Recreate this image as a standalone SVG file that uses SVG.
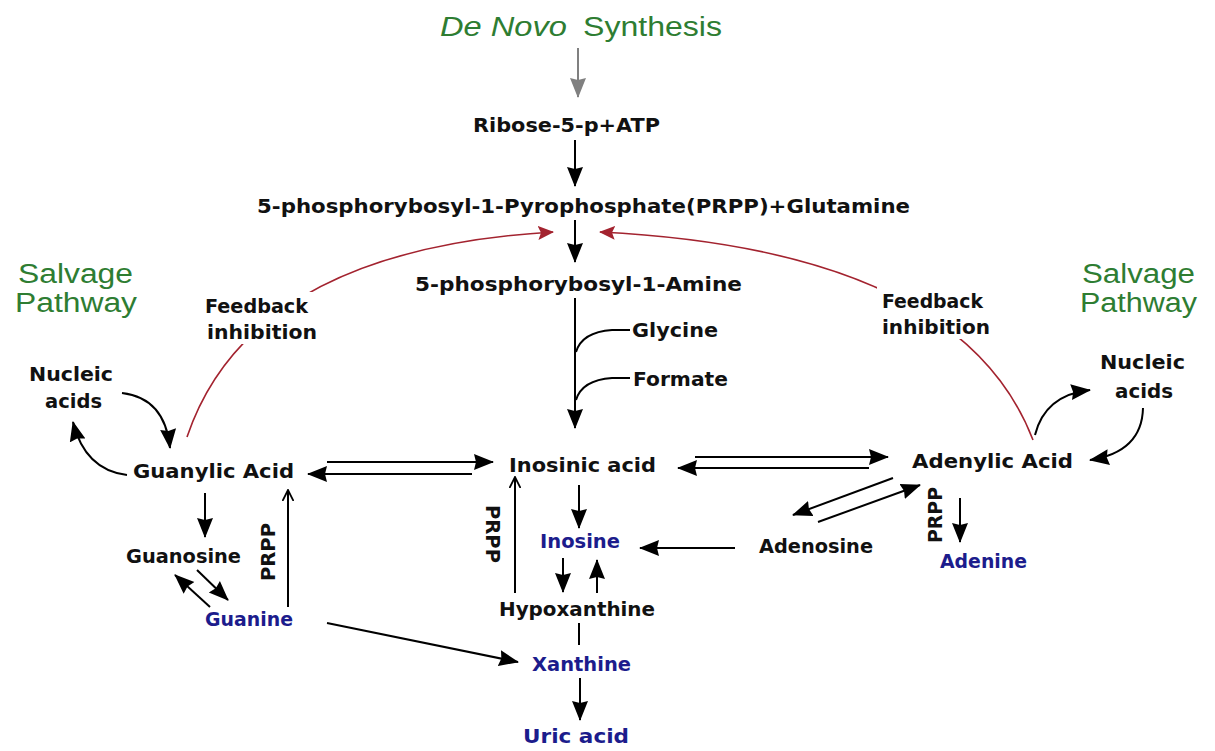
<svg xmlns="http://www.w3.org/2000/svg" width="1215" height="751" viewBox="0 0 1215 751">
<style>
.t{font-family:"DejaVu Sans","Liberation Sans",sans-serif;font-weight:bold;font-size:19px;fill:#111}
.b{fill:#1c1c8c}
.g{font-family:"Liberation Sans",Arial,sans-serif;font-size:27px;fill:#2e7d32}
.c{fill:none;stroke:#000;stroke-width:2}
.r{fill:none;stroke:#a3232f;stroke-width:1.6}
</style>
<defs>
<marker id="ah" markerUnits="userSpaceOnUse" markerWidth="20" markerHeight="18" viewBox="0 0 20 18" refX="19" refY="9" orient="auto"><path d="M0,1 L20,9 L0,17 L2,9 z" fill="#000"/></marker>
<marker id="ag" markerUnits="userSpaceOnUse" markerWidth="20" markerHeight="18" viewBox="0 0 20 18" refX="19" refY="9" orient="auto"><path d="M0,1 L20,9 L0,17 L2,9 z" fill="#808080"/></marker>
<marker id="ar" markerUnits="userSpaceOnUse" markerWidth="16" markerHeight="14" viewBox="0 0 16 14" refX="15" refY="7" orient="auto"><path d="M0,0 L16,7 L0,14 L3,7 z" fill="#a3232f"/></marker>
<marker id="ao" markerUnits="userSpaceOnUse" markerWidth="12" markerHeight="12" viewBox="0 0 12 12" refX="11" refY="6" orient="auto"><path d="M0,0.5 L11,6 L0,11.5" fill="none" stroke="#000" stroke-width="1.8"/></marker>
</defs>
<rect width="1215" height="751" fill="#fff"/>
<g id="connectors">
<path d="M578,48 L578,97" fill="none" stroke="#808080" stroke-width="2" marker-end="url(#ag)"/>
<path class="c" d="M575,140 L575,186" marker-end="url(#ah)"/>
<path class="c" d="M575,220 L575,262" marker-end="url(#ah)"/>
<path class="r" d="M187,437 Q250,250 553,232" marker-end="url(#ar)"/>
<path class="r" d="M1033,440 Q960,250 600,232" marker-end="url(#ar)"/>
<path class="c" d="M575,298 L575,428" marker-end="url(#ah)"/>
<path class="c" d="M630,330 L612,330 Q582,332 576,352" stroke-width="1.6"/>
<path class="c" d="M630,378 L612,378 Q582,380 576,400" stroke-width="1.6"/>
<path class="c" d="M327,462 L493,462" marker-end="url(#ah)"/>
<path class="c" d="M472,474 L308,474" marker-end="url(#ah)"/>
<path class="c" d="M695,457 L888,457" marker-end="url(#ah)"/>
<path class="c" d="M869,468 L678,468" marker-end="url(#ah)"/>
<path class="c" d="M579,485 L579,528" marker-end="url(#ah)"/>
<path class="c" d="M735,548 L640,548" marker-end="url(#ah)"/>
<path class="c" d="M563,558 L563,592" marker-end="url(#ah)"/>
<path class="c" d="M597,593 L597,560" marker-end="url(#ah)"/>
<path class="c" d="M579,623 L579,645"/>
<path class="c" d="M327,623 L518,662" marker-end="url(#ah)"/>
<path class="c" d="M580,678 L580,720" marker-end="url(#ah)"/>
<path class="c" d="M515,593 L515,477" marker-end="url(#ao)"/>
<path class="c" d="M205,493 L205,537" marker-end="url(#ah)"/>
<path class="c" d="M197,570 L228,600" marker-end="url(#ah)"/>
<path class="c" d="M210,607 L175,575" marker-end="url(#ah)"/>
<path class="c" d="M288,607 L288,490" marker-end="url(#ao)"/>
<path class="c" d="M122,393 Q165,398 170,448" marker-end="url(#ah)"/>
<path class="c" d="M127,475 Q85,470 73,422" marker-end="url(#ah)"/>
<path class="c" d="M1035,435 Q1045,395 1090,390" marker-end="url(#ah)"/>
<path class="c" d="M1143,408 Q1142,452 1090,460" marker-end="url(#ah)"/>
<path class="c" d="M893,478 L793,515" marker-end="url(#ah)"/>
<path class="c" d="M818,522 L920,485" marker-end="url(#ah)"/>
<path class="c" d="M960,498 L960,542" marker-end="url(#ah)"/>
</g>
<g id="title"><text class="g" y="36"><tspan x="440" font-style="italic" textLength="127" lengthAdjust="spacingAndGlyphs">De Novo</tspan><tspan x="583" textLength="139" lengthAdjust="spacingAndGlyphs">Synthesis</tspan></text></g>
<g id="ribose"><text class="t" x="473" y="132" textLength="187" lengthAdjust="spacingAndGlyphs">Ribose-5-p+ATP</text></g>
<g id="prpp"><text class="t" x="257" y="213" textLength="653" lengthAdjust="spacingAndGlyphs">5-phosphorybosyl-1-Pyrophosphate(PRPP)+Glutamine</text></g>
<g id="amine"><text class="t" x="415" y="291" textLength="327" lengthAdjust="spacingAndGlyphs">5-phosphorybosyl-1-Amine</text></g>
<g id="glycine"><text class="t" x="632" y="337" textLength="86" lengthAdjust="spacingAndGlyphs">Glycine</text></g>
<g id="formate"><text class="t" x="633" y="386" textLength="95" lengthAdjust="spacingAndGlyphs">Formate</text></g>
<g id="salvage-left"><text class="g" x="18" y="283" textLength="115" lengthAdjust="spacingAndGlyphs">Salvage</text><text class="g" x="15" y="312" textLength="122" lengthAdjust="spacingAndGlyphs">Pathway</text></g>
<g id="salvage-right"><text class="g" x="1082" y="283" textLength="113" lengthAdjust="spacingAndGlyphs">Salvage</text><text class="g" x="1080" y="312" textLength="117" lengthAdjust="spacingAndGlyphs">Pathway</text></g>
<g id="feedback-left"><rect x="200" y="292" width="122" height="52" fill="#fff"/><text class="t" x="205" y="313" textLength="103" lengthAdjust="spacingAndGlyphs">Feedback</text><text class="t" x="207" y="339" textLength="110" lengthAdjust="spacingAndGlyphs">inhibition</text></g>
<g id="feedback-right"><rect x="877" y="287" width="118" height="52" fill="#fff"/><text class="t" x="882" y="308" textLength="101" lengthAdjust="spacingAndGlyphs">Feedback</text><text class="t" x="882" y="334" textLength="108" lengthAdjust="spacingAndGlyphs">inhibition</text></g>
<g id="nucleic-left"><text class="t" x="29" y="381" textLength="84" lengthAdjust="spacingAndGlyphs">Nucleic</text><text class="t" x="45" y="408" textLength="57" lengthAdjust="spacingAndGlyphs">acids</text></g>
<g id="nucleic-right"><text class="t" x="1100" y="369" textLength="85" lengthAdjust="spacingAndGlyphs">Nucleic</text><text class="t" x="1115" y="398" textLength="58" lengthAdjust="spacingAndGlyphs">acids</text></g>
<g id="guanylic"><text class="t" x="133" y="478" textLength="161" lengthAdjust="spacingAndGlyphs">Guanylic Acid</text></g>
<g id="inosinic"><text class="t" x="509" y="472" textLength="147" lengthAdjust="spacingAndGlyphs">Inosinic acid</text></g>
<g id="adenylic"><text class="t" x="912" y="468" textLength="161" lengthAdjust="spacingAndGlyphs">Adenylic Acid</text></g>
<g id="guanosine"><text class="t" x="126" y="563" textLength="115" lengthAdjust="spacingAndGlyphs">Guanosine</text></g>
<g id="guanine"><text class="t b" x="205" y="626" textLength="88" lengthAdjust="spacingAndGlyphs">Guanine</text></g>
<g id="inosine"><text class="t b" x="540" y="548" textLength="80" lengthAdjust="spacingAndGlyphs">Inosine</text></g>
<g id="adenosine"><text class="t" x="759" y="553" textLength="114" lengthAdjust="spacingAndGlyphs">Adenosine</text></g>
<g id="adenine"><text class="t b" x="940" y="568" textLength="87" lengthAdjust="spacingAndGlyphs">Adenine</text></g>
<g id="hypoxanthine"><text class="t" x="499" y="616" textLength="156" lengthAdjust="spacingAndGlyphs">Hypoxanthine</text></g>
<g id="xanthine"><text class="t b" x="532" y="671" textLength="99" lengthAdjust="spacingAndGlyphs">Xanthine</text></g>
<g id="uric"><text class="t b" x="523" y="743" textLength="106" lengthAdjust="spacingAndGlyphs">Uric acid</text></g>
<g id="prpp-labels">
<text class="t" text-anchor="middle" transform="translate(275,552) rotate(-90)" textLength="58" lengthAdjust="spacingAndGlyphs">PRPP</text>
<text class="t" text-anchor="middle" transform="translate(486,534) rotate(90)" textLength="58" lengthAdjust="spacingAndGlyphs">PRPP</text>
<text class="t" text-anchor="middle" transform="translate(942,515) rotate(-90)" textLength="56" lengthAdjust="spacingAndGlyphs">PRPP</text>
</g>
</svg>
